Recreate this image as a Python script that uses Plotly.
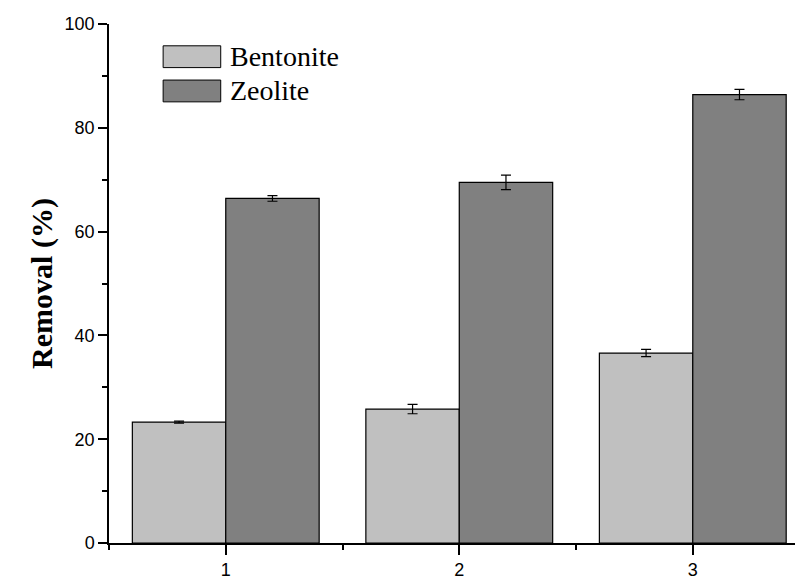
import plotly.graph_objects as go

categories = [1, 2, 3]
bentonite = [23.3, 25.8, 36.6]
bentonite_err = [0.2, 0.9, 0.7]
zeolite = [66.4, 69.5, 86.4]
zeolite_err = [0.55, 1.4, 1.0]
series_names = ["Bentonite", "Zeolite"]
series_colors = ["#C0C0C0", "#808080"]

fig = go.Figure()
for name, vals, errs, col in zip(series_names, [bentonite, zeolite],
                                 [bentonite_err, zeolite_err], series_colors):
    fig.add_trace(go.Bar(
        x=categories, y=vals, name=name,
        marker=dict(color=col, line=dict(color="black", width=1.2)),
        error_y=dict(type="data", array=errs, color="black", thickness=1.2, width=5),
        showlegend=False,
    ))

# Manual legend (large swatches like the original)
leg_y = [0.937, 0.871]
for i, (name, col) in enumerate(zip(series_names, series_colors)):
    fig.add_shape(type="rect", xref="paper", yref="paper",
                  x0=0.078, x1=0.161, y0=leg_y[i] - 0.021, y1=leg_y[i] + 0.021,
                  fillcolor=col, line=dict(color="black", width=1))
    fig.add_annotation(xref="paper", yref="paper", x=0.172, y=leg_y[i],
                       text=name, showarrow=False, xanchor="left", yanchor="middle",
                       font=dict(family="Liberation Serif", size=28, color="black"))

# The page body has an 8px default margin, so the figure is sized to fit the window.
fig.update_layout(
    width=795, height=569,
    margin=dict(l=101, r=0, t=16, b=34),
    paper_bgcolor="white", plot_bgcolor="white",
    barmode="group", bargap=0.2, bargroupgap=0,
    font=dict(family="Liberation Sans", size=18, color="black"),
    xaxis=dict(
        range=[0.5, 3.472], tickmode="array", tickvals=categories,
        ticktext=[str(c) for c in categories],
        showline=True, linecolor="black", linewidth=1.5,
        ticks="outside", ticklen=10, tickwidth=1.5, tickcolor="black",
        minor=dict(tickvals=[0.5, 1.5, 2.5], ticks="outside", ticklen=5,
                   tickwidth=1.5, tickcolor="black"),
        showgrid=False, zeroline=False, automargin=False,
        tickfont=dict(family="Liberation Sans", size=18),
    ),
    yaxis=dict(
        range=[0, 100], tickvals=[0, 20, 40, 60, 80, 100],
        showline=True, linecolor="black", linewidth=1.5,
        ticks="outside", ticklen=9, tickwidth=1.5, tickcolor="black",
        minor=dict(tickvals=[10, 30, 50, 70, 90], ticks="outside", ticklen=5,
                   tickwidth=1.5, tickcolor="black"),
        showgrid=False, zeroline=False, automargin=False,
        tickfont=dict(family="Liberation Sans", size=18),
        title=dict(text="<b>Removal (%)</b>", standoff=3,
                   font=dict(family="Liberation Serif", size=30)),
    ),
)

fig.write_html("out.html")
